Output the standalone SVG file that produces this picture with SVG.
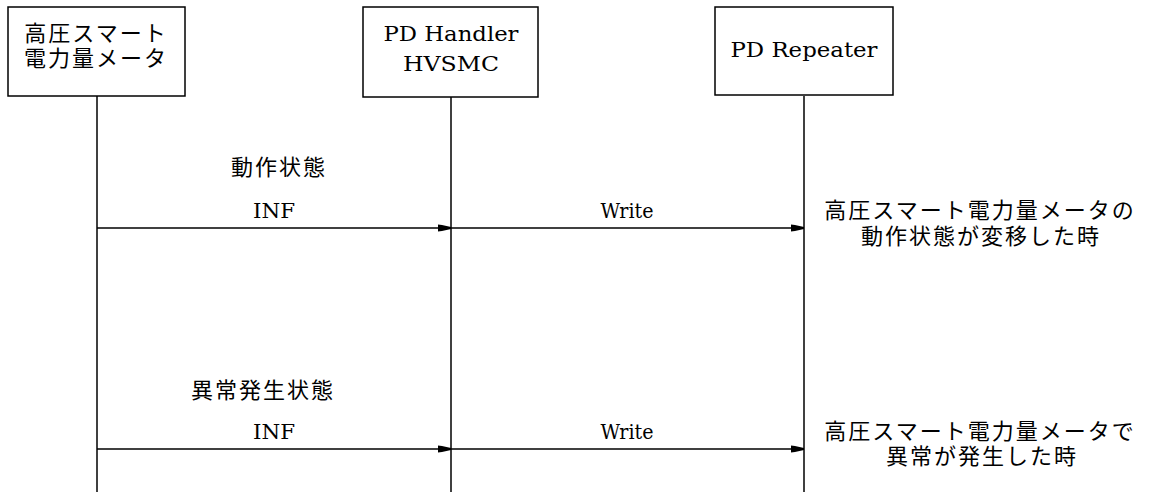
<svg xmlns="http://www.w3.org/2000/svg" width="1150" height="493" viewBox="0 0 1150 493">
<style>
.box{fill:#fff;stroke:#000;stroke-width:1.5}
.life{stroke:#000;stroke-width:1.5}
.msg{stroke:#000;stroke-width:1.5;fill:none;marker-end:url(#ah)}
.jp{font-family:"Noto Sans CJK JP","Noto Sans CJK SC",sans-serif;font-size:22px;fill:#000;letter-spacing:2px}
.en{font-family:"DejaVu Serif","Liberation Serif",serif;font-size:21px;fill:#000}
</style>
<defs>
<marker id="ah" markerWidth="14" markerHeight="10" refX="13" refY="5" orient="auto" markerUnits="userSpaceOnUse">
<path d="M0,1.5 L4,2 L13,4 L13,6 L4,8 L0,8.5 Z" fill="#000"/>
</marker>
</defs>
<g id="connectors">
<line class="life" x1="97" y1="96" x2="97" y2="492"/>
<line class="life" x1="451" y1="97" x2="451" y2="492"/>
<line class="life" x1="804" y1="96" x2="804" y2="492"/>
<line class="msg" x1="97" y1="228" x2="451" y2="228"/>
<line class="msg" x1="451" y1="228" x2="804" y2="228"/>
<line class="msg" x1="97" y1="449" x2="451" y2="449"/>
<line class="msg" x1="451" y1="449" x2="804" y2="449"/>
</g>
<g id="meter">
<rect class="box" x="8" y="7" width="177" height="89"/>
<text class="jp" x="96" y="41" text-anchor="middle">高圧スマート</text>
<text class="jp" x="96" y="66" text-anchor="middle">電力量メータ</text>
</g>
<g id="handler">
<rect class="box" x="363" y="7" width="175" height="90"/>
<text class="en" x="451" y="41" text-anchor="middle" textLength="135" lengthAdjust="spacingAndGlyphs">PD Handler</text>
<text class="en" x="451" y="71" text-anchor="middle" textLength="96" lengthAdjust="spacingAndGlyphs">HVSMC</text>
</g>
<g id="repeater">
<rect class="box" x="715" y="7" width="178" height="88"/>
<text class="en" x="804" y="57" text-anchor="middle" textLength="147" lengthAdjust="spacingAndGlyphs">PD Repeater</text>
</g>
<g id="labels">
<text class="jp" x="279" y="175" text-anchor="middle">動作状態</text>
<text class="en" x="274" y="218" text-anchor="middle" textLength="42" lengthAdjust="spacingAndGlyphs">INF</text>
<text class="en" x="627" y="218" text-anchor="middle" textLength="53" lengthAdjust="spacingAndGlyphs">Write</text>
<text class="jp" x="980" y="218" text-anchor="middle">高圧スマート電力量メータの</text>
<text class="jp" x="981" y="244" text-anchor="middle">動作状態が変移した時</text>
<text class="jp" x="263" y="398" text-anchor="middle">異常発生状態</text>
<text class="en" x="274" y="439" text-anchor="middle" textLength="42" lengthAdjust="spacingAndGlyphs">INF</text>
<text class="en" x="627" y="439" text-anchor="middle" textLength="53" lengthAdjust="spacingAndGlyphs">Write</text>
<text class="jp" x="980" y="439" text-anchor="middle">高圧スマート電力量メータで</text>
<text class="jp" x="982" y="464" text-anchor="middle">異常が発生した時</text>
</g>
</svg>
